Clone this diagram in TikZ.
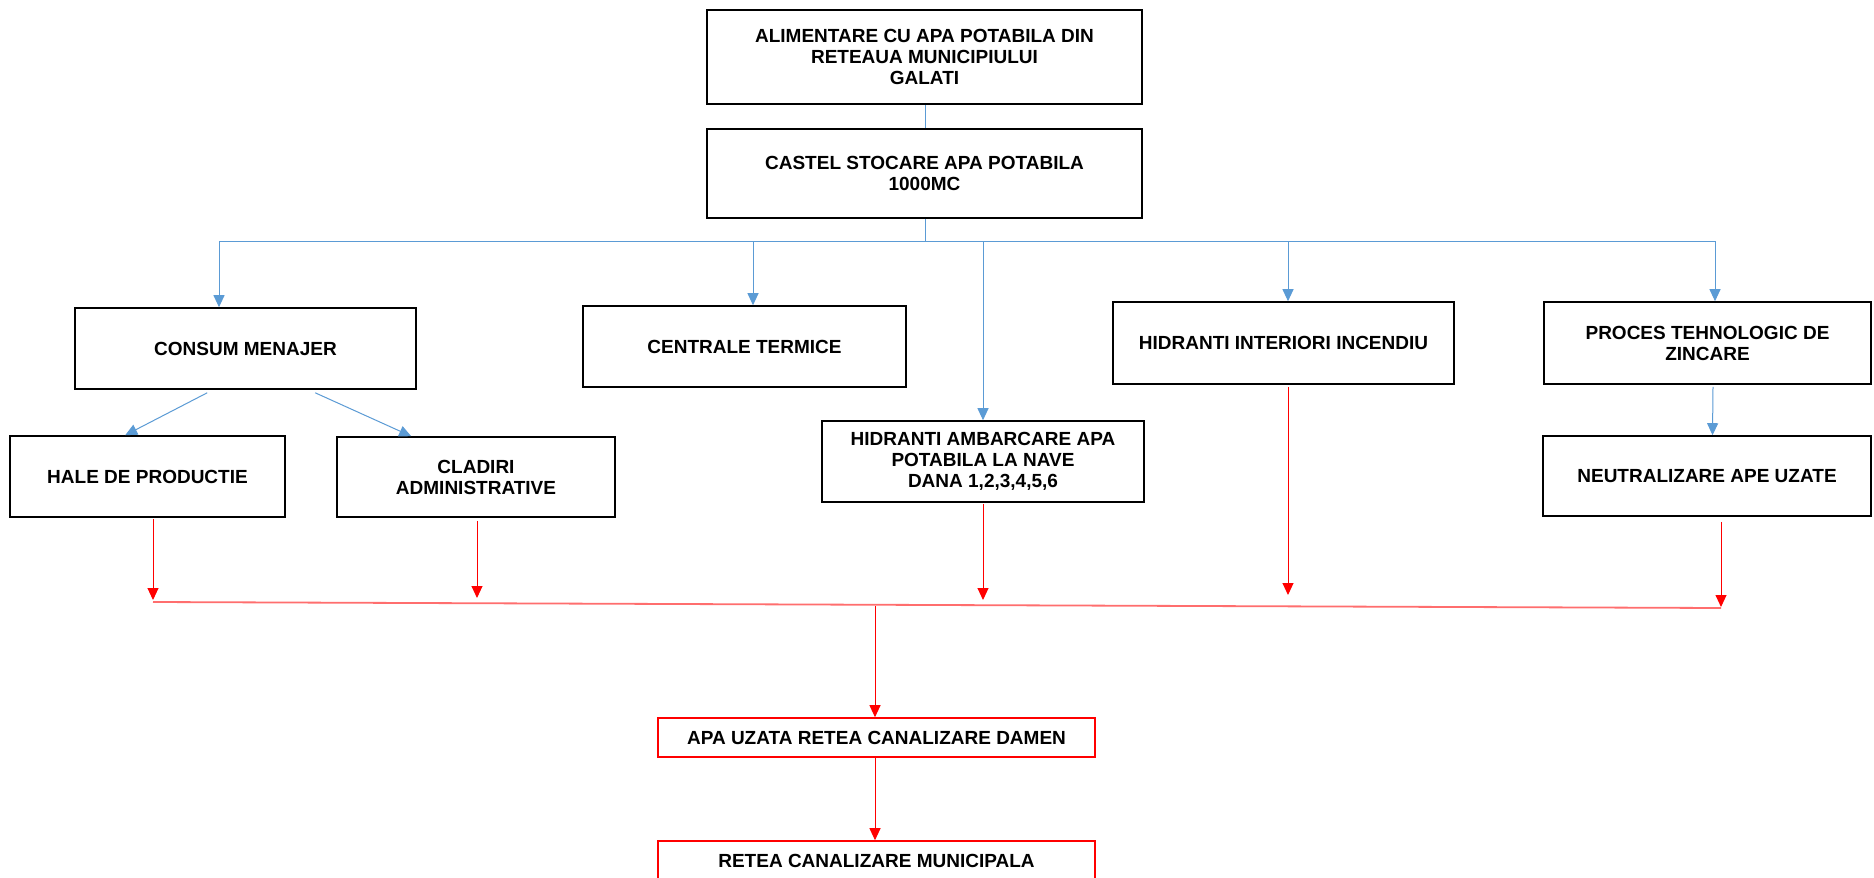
\documentclass[tikz,border=0pt]{standalone}
\usepackage{fontspec}
\setmainfont{Liberation Sans}
\usetikzlibrary{arrows.meta}
\definecolor{flowblue}{RGB}{91,155,213}
\definecolor{flowred}{RGB}{255,0,0}
\definecolor{busred}{RGB}{255,110,110}
\begin{document}
\begin{tikzpicture}[x=1pt,y=-1pt,
  box/.style={draw=black, line width=1.6pt, fill=white, align=center, inner sep=2pt,
    font=\fontsize{19}{21}\selectfont\bfseries},
  redbox/.style={box, draw=flowred},
  blueline/.style={draw=flowblue, line width=1pt},
  bluearrow/.style={blueline, -{Triangle[width=11pt,length=12pt]}},
  redline/.style={draw=flowred, line width=1pt},
  redarrow/.style={redline, -{Triangle[width=11pt,length=12pt]}},
  redbus/.style={draw=busred, line width=1.8pt}]
\clip (0,0) rectangle (1874,878);
\fill[white] (0,0) rectangle (1874,878);

% boxes
\node[box, minimum width=435pt, minimum height=94pt] (alim) at (924.5,57) {ALIMENTARE CU APA POTABILA DIN\\RETEAUA MUNICIPIULUI\\GALATI};
\node[box, minimum width=435pt, minimum height=89pt] (castel) at (924.5,173.5) {CASTEL STOCARE APA POTABILA\\1000MC};
\node[box, minimum width=341pt, minimum height=81pt] (consum) at (245.5,348.5) {CONSUM MENAJER};
\node[box, minimum width=323pt, minimum height=81pt] (centrale) at (744.5,346.5) {CENTRALE TERMICE};
\node[box, minimum width=341pt, minimum height=82pt] (interiori) at (1283.5,343) {HIDRANTI INTERIORI INCENDIU};
\node[box, minimum width=327pt, minimum height=82pt] (proces) at (1707.5,343) {PROCES TEHNOLOGIC DE\\ZINCARE};
\node[box, minimum width=275pt, minimum height=81pt] (hale) at (147.5,476.5) {HALE DE PRODUCTIE};
\node[box, minimum width=278pt, minimum height=80pt] (cladiri) at (476,477) {CLADIRI\\ADMINISTRATIVE};
\node[box, minimum width=322pt, minimum height=81pt] (ambarcare) at (983,461.5) {HIDRANTI AMBARCARE APA\\POTABILA LA NAVE\\DANA 1,2,3,4,5,6};
\node[box, minimum width=328pt, minimum height=80pt] (neutral) at (1707,476) {NEUTRALIZARE APE UZATE};
\node[redbox, minimum width=437pt, minimum height=39pt] (apa) at (876.5,737.5) {APA UZATA RETEA CANALIZARE DAMEN};
\node[redbox, minimum width=437pt, minimum height=40pt] (retea) at (876.5,861) {RETEA CANALIZARE MUNICIPALA};

% blue supply network
\coordinate (bus) at (925,241);
\coordinate (busL) at (219,241);
\coordinate (busR) at (1715,241);
\coordinate (bC) at (753,241);
\coordinate (bA) at (983,241);
\coordinate (bI) at (1288,241);
\draw[blueline] (alim.south -| bus) -- (castel.north -| bus);
\draw[blueline] (castel.south -| bus) -- (bus);
\draw[blueline] (busL) -- (busR);
\draw[bluearrow] (busL) -- (busL |- consum.north);
\draw[bluearrow] (bC) -- (bC |- centrale.north);
\draw[bluearrow] (bA) -- (bA |- ambarcare.north);
\draw[bluearrow] (bI) -- (bI |- interiori.north);
\draw[bluearrow] (busR) -- (busR |- proces.north);
\draw[bluearrow] ([xshift=5.5pt,yshift=-2pt]proces.south) -- ([xshift=5.5pt]neutral.north);
\draw[bluearrow] ([shift={(133pt,-3pt)}]consum.south west) -- ([xshift=116pt]hale.north west);
\draw[bluearrow] ([shift={(241pt,-3pt)}]consum.south west) -- ([xshift=75pt]cladiri.north west);

% red waste-water network
\coordinate (j1) at (153,602);
\coordinate (j2) at (477,603);
\coordinate (j3) at (983,605);
\coordinate (j4) at (1288,606);
\coordinate (j5) at (1721,608);
\coordinate (jo) at (875,606);
\draw[redbus] (j1) -- (j5);
\draw[redarrow, shorten >=2pt] ([yshift=-1pt]hale.south -| j1) -- (j1);
\draw[redarrow, shorten >=5pt] ([yshift=-3pt]cladiri.south -| j2) -- (j2);
\draw[redarrow, shorten >=5pt] ([yshift=-1pt]ambarcare.south -| j3) -- (j3);
\draw[redarrow, shorten >=11pt] ([yshift=-2pt]interiori.south -| j4) -- (j4);
\draw[redarrow, shorten >=1pt] ([yshift=-5pt]neutral.south -| j5) -- (j5);
\draw[redarrow] (jo) -- (jo |- apa.north);
\draw[redarrow] (apa.south -| jo) -- (retea.north -| jo);
\end{tikzpicture}
\end{document}
